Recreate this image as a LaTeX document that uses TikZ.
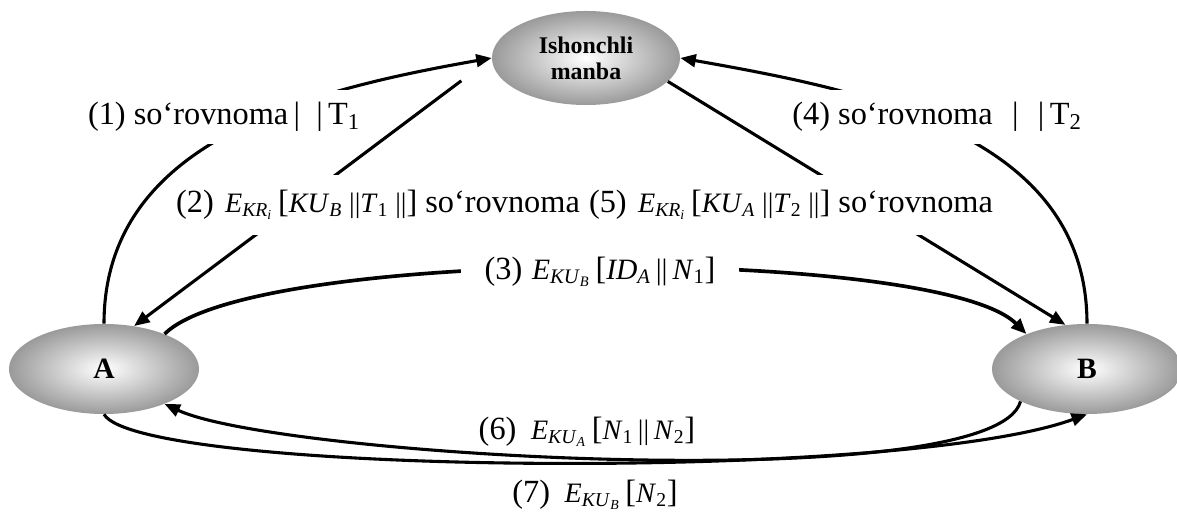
\documentclass[tikz,border=0pt]{standalone}
\usepackage{fontspec}
\setmainfont{Liberation Serif}
\usetikzlibrary{positioning, arrows.meta, shapes.geometric}
\usepackage{xcolor}
\definecolor{shadeGray}{HTML}{9A9A9A}
\newcommand\subx[1]{\textsubscript{#1}}
\newcommand\mpart[2][20]{{\fontsize{#1}{#1}\selectfont#2}}

\begin{document}
\begin{tikzpicture}[
    ->, >={Triangle[length=11pt,width=9pt]},
    x=0.025cm, y=0.025cm,
    party/.style={ellipse, inner color=white, outer color=shadeGray, minimum width=4.75cm, minimum height=2.25cm, font=\fontsize{21}{25}\selectfont\bfseries},
    msg/.style={fill=white, inner xsep=5pt, inner ysep=9pt, font=\fontsize{23}{27}\selectfont},
    every edge/.style={draw=black, line width=2.2pt}
]
    \useasboundingbox (0,0) rectangle (1177,513);

    % parties
    \node[party, minimum width=4.7cm, minimum height=2.35cm, align=center, font=\fontsize{17}{18.5}\selectfont\bfseries] (src) at (586,455) {Ishonchli\\manba};
    \node[party] (A) at (104,144) {A};
    \node[party] (B) at (1087,144) {B};

    % messages
    \path (A.north) edge[out=90, in=190] (src.west)
          (src.west) edge[shorten <=0.95cm] (A.55)
          (A.30) edge[out=45, in=135, looseness=0.37, line width=2.6pt] (B.150)
          (B.north) edge[out=90, in=-10] (src.east)
          (src.-16) edge (B.116)
          (B.206) edge[out=-105, out distance=2.5cm, in=-25, in distance=3.15cm] (A.-30)
          (A.south) edge[out=-60, out distance=1.75cm, in=-160, in distance=5cm] (B.south);

    \node[msg] (m1) at (224,396) {(1) so‘rovnoma\,|\hspace{0.5em}|\,T\subx{1}};
    \node[msg] (m4) at (937,396) {(4) so‘rovnoma\hspace{0.6em}|\hspace{0.6em}|\,T\subx{2}};
    \node[msg, inner xsep=1pt, inner ysep=11pt] (m2) at (378,308) {(2)\hspace{0.35em}\mpart{\textit{E}\subx{\textit{KR}\subx{\textit{i}}}}\,[\mpart{\textit{KU}\subx{\textit{B}} ||\textit{T}\subx{1} ||}] so‘rovnoma};
    \node[msg, inner xsep=1pt, inner ysep=11pt] (m5) at (791,308) {(5)\hspace{0.35em}\mpart{\textit{E}\subx{\textit{KR}\subx{\textit{i}}}}\,[\mpart{\textit{KU}\subx{\textit{A}} ||\textit{T}\subx{2} ||}] so‘rovnoma};
    \node[msg, inner xsep=17pt] (m3) at (600,241) {(3)\hspace{0.3em}\mpart[21]{\textit{E}\subx{\textit{KU}\subx{\textit{B}}}}\,[\mpart[21]{\textit{ID}\subx{\textit{A}}\,||\,\textit{N}\subx{1}}]};
    \node[font=\fontsize{23}{27}\selectfont] (m6) at (587,81) {(6)\hspace{0.45em}\mpart{\textit{E}\subx{\textit{KU}\subx{\textit{A}}}}\,[\mpart{\textit{N}\subx{1}\,||\,\textit{N}\subx{2}}]};
    \node[font=\fontsize{23}{27}\selectfont] (m7) at (595,18) {(7)\hspace{0.45em}\mpart{\textit{E}\subx{\textit{KU}\subx{\textit{B}}}}\,[\mpart{\textit{N}\subx{2}}]};
\end{tikzpicture}
\end{document}
